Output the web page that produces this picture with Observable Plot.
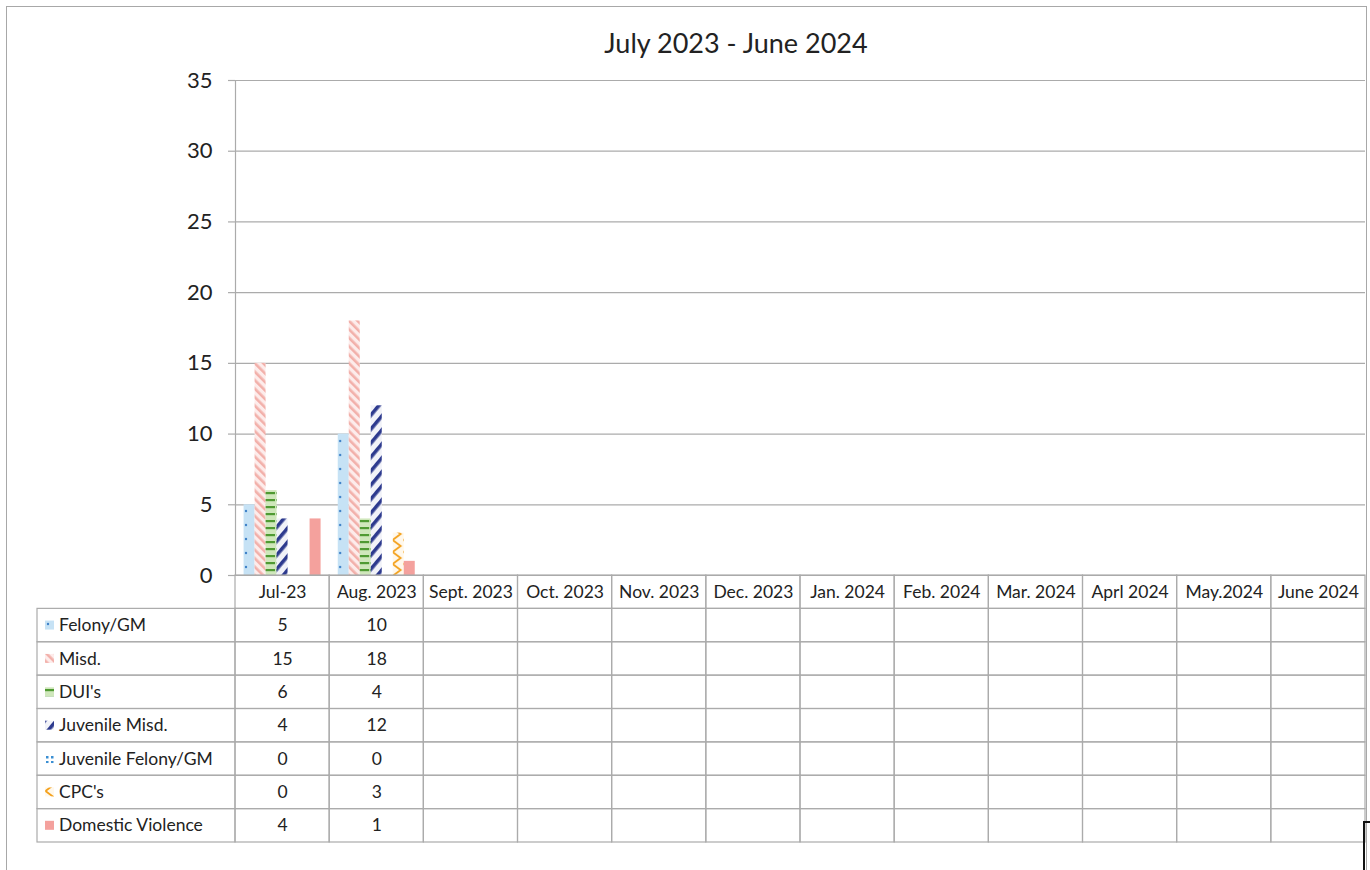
<!DOCTYPE html>
<html>
<head>
<meta charset="utf-8">
<script src="https://cdn.jsdelivr.net/npm/d3@7"></script>
<script src="https://cdn.jsdelivr.net/npm/@observablehq/plot@0.6"></script>
<style>
  body { margin: 0; background: #fff; font-family: Lato, "Open Sans", sans-serif; }
  #page { position: relative; width: 1370px; height: 870px; overflow: hidden; background: #fff; }
  #frame { position: absolute; left: 6px; top: 6px; width: 1361px; height: 900px; border: 1.5px solid #a8a8a8; border-bottom: none; box-sizing: border-box; }
  #title { position: absolute; left: 536px; width: 400px; top: 29px; text-align: center; font-size: 27px; color: #222; line-height: 1; }
  .layer { position: absolute; left: 0; top: 0; }
  #table { position: absolute; left: 0; top: 575px; }
  #bracket { position: absolute; left: 1363px; top: 821px; width: 10px; height: 60px; border-left: 2.5px solid #111; border-top: 2.5px solid #111; }
  svg { overflow: visible; }
</style>
</head>
<body>
<div id="page">
  <div id="frame"></div>
  <div id="title">July 2023 - June 2024</div>
  <div id="grid" class="layer"></div>
  <div id="bars" class="layer"></div>
  <div id="table"></div>
  <div id="bracket"></div>
</div>
<script>
// ---- data ----
const months = ["Jul-23", "Aug. 2023", "Sept. 2023", "Oct. 2023", "Nov. 2023", "Dec. 2023",
                "Jan. 2024", "Feb. 2024", "Mar. 2024", "Aprl 2024", "May.2024", "June 2024"];
const seriesNames = ["Felony/GM", "Misd.", "DUI's", "Juvenile Misd.", "Juvenile Felony/GM", "CPC's", "Domestic Violence"];
const felony = [5, 10];
const misd = [15, 18];
const duis = [6, 4];
const juvenileMisd = [4, 12];
const juvenileFelony = [0, 0];
const cpcs = [0, 3];
const domesticViolence = [4, 1];
const yTicks = [0, 5, 10, 15, 20, 25, 30, 35];

const seriesValues = [felony, misd, duis, juvenileMisd, juvenileFelony, cpcs, domesticViolence];
const patternIds = ["p-felony", "p-misd", "p-dui", "p-juvmisd", "p-juvfel", "p-cpc", "p-dv"];
const patternOf = Object.fromEntries(seriesNames.map((s, i) => [s, `url(#${patternIds[i]})`]));

const bars = [];
seriesNames.forEach((s, i) => {
  seriesValues[i].forEach((v, m) => bars.push({month: months[m], series: s, value: v}));
});

const gridColor = "#ababab";
const font = "Lato, 'Open Sans', sans-serif";
const layout = {width: 1370, height: 600, marginLeft: 235, marginRight: 5, marginTop: 80, marginBottom: 25};

// ---- grid + y axis layer ----
const grid = Plot.plot({
  ...layout,
  style: {fontFamily: font, background: "transparent", color: "#222"},
  x: {domain: months, padding: 0, round: false, axis: null},
  y: {domain: [0, 35], axis: null},
  marks: [
    Plot.ruleY(yTicks, {stroke: gridColor, strokeWidth: 1.2}),
    Plot.axisY({ticks: yTicks, tickSize: 7, tickPadding: 16, fontSize: 22, stroke: gridColor, strokeWidth: 1.2, label: null, fill: "#222"}),
    Plot.frame({anchor: "left", stroke: gridColor, strokeWidth: 1.2})
  ]
});

// ---- bars layer ----
const chart = Plot.plot({
  ...layout,
  style: {fontFamily: font, background: "transparent", color: "#222"},
  fx: {domain: months, padding: 0, round: false, axis: null},
  x: {domain: seriesNames, paddingInner: 0, paddingOuter: 0.78, round: false, axis: null},
  y: {domain: [0, 35], axis: null},
  marks: [
    Plot.barY(bars, {fx: "month", x: "series", y: "value", fill: d => patternOf[d.series], inset: 0})
  ]
});

// ---- patterns ----
const defs = d3.select(chart).insert("defs", ":first-child");
function pat(id, w, h, bg, draw, transform) {
  const p = defs.append("pattern").attr("id", id).attr("patternUnits", "userSpaceOnUse").attr("width", w).attr("height", h);
  if (transform) p.attr("patternTransform", transform);
  p.append("rect").attr("width", w).attr("height", h).attr("fill", bg);
  draw(p);
}
pat("p-felony", 11, 14, "#c6e2f5", p => p.append("circle").attr("cx", 4).attr("cy", 7).attr("r", 1.2).attr("fill", "#3f82c8"));
pat("p-misd", 6, 6, "#fdeceb", p => p.append("rect").attr("width", 2.6).attr("height", 6).attr("fill", "#f2b0aa"), "rotate(-45)");
pat("p-dui", 11, 7, "#cfe7bb", p => p.append("rect").attr("x", 1).attr("y", 2).attr("width", 10).attr("height", 2.2).attr("fill", "#4f9a32"));
pat("p-juvmisd", 9, 9, "#f1f2f8", p => p.append("rect").attr("width", 3.6).attr("height", 9).attr("fill", "#2d3a8e"), "rotate(40)");
pat("p-juvfel", 5, 5, "#ffffff", p => p.append("rect").attr("x", 1).attr("y", 1).attr("width", 2.5).attr("height", 2.5).attr("fill", "#3a8fd3"));
pat("p-cpc", 11, 12, "#fff8ec", p => p.append("path").attr("d", "M1.5,0 L9.5,6 L1.5,12").attr("fill", "none").attr("stroke", "#f4a11c").attr("stroke-width", 1.8));
pat("p-dv", 4, 4, "#f4a19d", p => {});

document.getElementById("grid").append(grid);
document.getElementById("bars").append(chart);

// ---- data table ----
const rowIds = ["header", ...seriesNames];
const gridCells = [];
for (const r of rowIds) for (const m of months) gridCells.push({month: m, row: r});
const tableValues = bars.map(d => ({month: d.month, series: d.series, value: String(d.value)}));

const labelColWidth = 198;
function legendColumn(index, scales, values, dims) {
  const y = scales.y;
  const bw = typeof y.bandwidth === "function" ? y.bandwidth() : scales.scales.y.bandwidth;
  const left = dims.marginLeft - labelColWidth;
  const g = d3.create("svg:g");
  seriesNames.forEach(s => {
    const y0 = y(s);
    g.append("rect").attr("x", left).attr("y", y0).attr("width", labelColWidth).attr("height", bw)
      .attr("fill", "none").attr("stroke", gridColor).attr("stroke-width", 1.2);
    g.append("rect").attr("x", left + 8).attr("y", y0 + bw / 2 - 4.5).attr("width", 9).attr("height", 9)
      .attr("fill", patternOf[s]);
    g.append("text").attr("x", left + 22).attr("y", y0 + bw / 2).attr("dy", "0.35em")
      .attr("text-anchor", "start")
      .attr("font-size", 17.5).attr("fill", "#222").attr("font-family", font).text(s);
  });
  return g.node();
}

const table = Plot.plot({
  width: 1370,
  height: 272,
  marginLeft: 235,
  marginRight: 5,
  marginTop: 0,
  marginBottom: 5,
  style: {fontFamily: font, background: "transparent", color: "#222"},
  x: {domain: months, padding: 0, round: false, axis: null},
  y: {domain: rowIds, padding: 0, round: false, axis: null},
  marks: [
    Plot.cell(gridCells, {x: "month", y: "row", fill: "none", stroke: gridColor, strokeWidth: 1.2}),
    Plot.text(months, {x: d => d, y: () => "header", text: d => d, fontSize: 17.5, fill: "#222"}),
    Plot.text(tableValues, {x: "month", y: "series", text: "value", fontSize: 17.5, fill: "#222"}),
    legendColumn
  ]
});
document.getElementById("table").append(table);
</script>
</body>
</html>
